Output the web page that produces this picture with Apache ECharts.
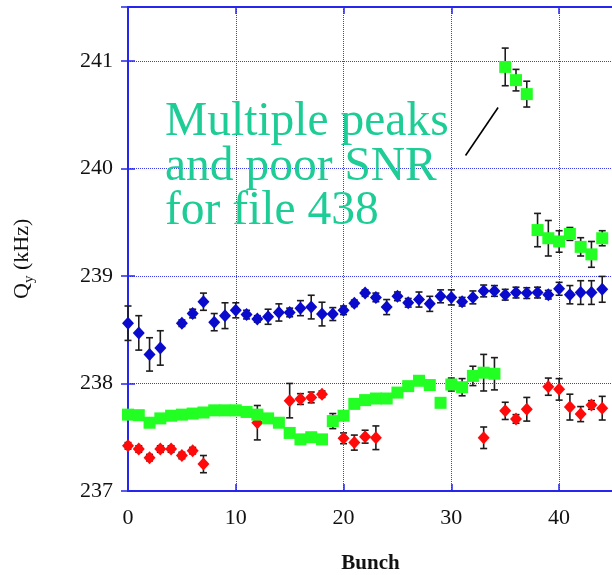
<!DOCTYPE html>
<html>
<head>
<meta charset="utf-8">
<script src="https://cdn.jsdelivr.net/npm/echarts@6/dist/echarts.min.js"></script>
<style>
  html, body { margin: 0; padding: 0; background: #ffffff; }
  #chart { width: 612px; height: 575px; }
</style>
</head>
<body>
<div id="chart"></div>
<script>
// Vertical tune Q_y per bunch, three measurement files, with error bars (kHz)
const blueBunch = [0,1,2,3,5,6,7,8,9,10,11,12,13,14,15,16,17,18,19,20,21,22,23,24,25,26,27,28,29,30,31,32,33,34,35,36,37,38,39,40,41,42,43,44];
const blueQy = [238.56,238.47,238.27,238.33,238.56,238.65,238.76,238.57,238.63,238.68,238.64,238.60,238.62,238.66,238.66,238.70,238.71,238.645,238.645,238.68,238.745,238.84,238.80,238.71,238.81,238.75,238.78,238.74,238.81,238.80,238.76,238.80,238.86,238.86,238.825,238.845,238.84,238.845,238.825,238.88,238.825,238.845,238.845,238.875];
const blueErr = [0.16,0.16,0.155,0.16,0.03,0.04,0.08,0.08,0.12,0.07,0.04,0.03,0.07,0.08,0.04,0.07,0.11,0.11,0.06,0.04,0.03,0.03,0.04,0.07,0.04,0.04,0.07,0.07,0.06,0.07,0.04,0.06,0.055,0.05,0.05,0.05,0.05,0.05,0.04,0.06,0.085,0.11,0.11,0.12];

const redBunch = [0,1,2,3,4,5,6,7,12,15,16,17,18,20,21,22,23,33,35,36,37,39,40,41,42,43,44];
const redQy = [237.42,237.39,237.31,237.39,237.39,237.33,237.375,237.25,237.635,237.84,237.855,237.87,237.90,237.49,237.45,237.505,237.495,237.495,237.745,237.67,237.76,237.97,237.945,237.78,237.715,237.80,237.77];
const redErr = [0.03,0.03,0.03,0.03,0.03,0.03,0.03,0.08,0.16,0.16,0.05,0.05,0.03,0.05,0.07,0.06,0.11,0.1,0.08,0.04,0.11,0.08,0.1,0.12,0.07,0.04,0.11];

const greenBunch = [0,1,2,3,4,5,6,7,8,9,10,11,12,13,14,15,16,17,18,19,20,21,22,23,24,25,26,27,28,29,30,31,32,33,34,35,36,37,38,39,40,41,42,43,44];
const greenQy = [237.71,237.705,237.635,237.675,237.70,237.71,237.72,237.73,237.75,237.75,237.75,237.735,237.71,237.675,237.635,237.54,237.48,237.50,237.48,237.65,237.70,237.81,237.845,237.86,237.86,237.915,237.975,238.025,237.985,237.82,237.99,237.965,238.07,238.10,238.09,240.943,240.82,240.69,239.426,239.35,239.32,239.39,239.27,239.20,239.35];
const greenErr = [0.03,0.03,0.03,0.03,0.03,0.03,0.03,0.03,0.03,0.03,0.03,0.03,0.03,0.03,0.03,0.03,0.03,0.03,0.03,0.07,0.03,0.03,0.03,0.03,0.03,0.03,0.03,0.03,0.03,0.03,0.06,0.08,0.09,0.17,0.15,0.175,0.1,0.12,0.155,0.165,0.1,0.06,0.085,0.12,0.07];

// Axis ranges and tick labels
const xTicks = [0, 10, 20, 30, 40];
const yTicks = [237, 238, 239, 240, 241];
const xRange = [0, 45];
const yRange = [237, 241.5];

// Note and its pointer (data coordinates)
const noteText = ['Multiple peaks', 'and poor SNR', 'for file 438'];
const notePointer = [[31.32, 240.12], [34.34, 240.566]];

const FONT = 'Liberation Serif';
const AXIS_BLUE = '#2626ee';
const GRID_BLUE = '#3a3af2';

function points(xs, ys, es) {
  return xs.map((x, i) => es ? [x, ys[i], es[i]] : [x, ys[i]]);
}

function errorBar(params, api) {
  const x = api.value(0), y = api.value(1), e = api.value(2);
  const hi = api.coord([x, y + e]);
  const lo = api.coord([x, y - e]);
  const hw = 3.5;
  const st = { stroke: '#1c1c1c', lineWidth: 1.6 };
  return {
    type: 'group',
    children: [
      { type: 'line', shape: { x1: hi[0], y1: hi[1], x2: lo[0], y2: lo[1] }, style: st },
      { type: 'line', shape: { x1: hi[0] - hw, y1: hi[1], x2: hi[0] + hw, y2: hi[1] }, style: st },
      { type: 'line', shape: { x1: lo[0] - hw, y1: lo[1], x2: lo[0] + hw, y2: lo[1] }, style: st }
    ]
  };
}

function errSeries(xs, ys, es, z) {
  return {
    type: 'custom', renderItem: errorBar, z: z, silent: true, clip: false,
    dimensions: ['x', 'y', 'e'], encode: { x: 0, y: 1 },
    data: points(xs, ys, es)
  };
}

function markSeries(xs, ys, symbol, size, color, z) {
  return {
    type: 'scatter', symbol: symbol, symbolSize: size, z: z, silent: true, clip: false,
    itemStyle: { color: color, opacity: 1 },
    data: points(xs, ys)
  };
}

const chart = echarts.init(document.getElementById('chart'), null, { renderer: 'canvas' });

const baseX = { type: 'value', min: xRange[0], max: xRange[1], interval: 10 };
const baseY = { type: 'value', min: yRange[0], max: yRange[1], interval: 1 };

chart.setOption({
  animation: false,
  backgroundColor: '#ffffff',
  grid: { left: 128, right: -1, top: 7, bottom: 84, containLabel: false, outerBoundsMode: 'none' },
  xAxis: [
    Object.assign({}, baseX, {
      position: 'bottom',
      name: 'Bunch', nameLocation: 'middle', nameGap: 62,
      nameTextStyle: { fontFamily: FONT, fontSize: 21, fontWeight: 'bold', color: '#111' },
      axisLine: { show: true, lineStyle: { color: AXIS_BLUE, width: 2 } },
      axisTick: { show: true, inside: true, length: 7, lineStyle: { color: AXIS_BLUE, width: 1.5 } },
      axisLabel: {
        margin: 16, fontFamily: FONT, fontSize: 22, color: '#111',
        formatter: v => xTicks.includes(v) ? String(v) : ''
      },
      splitLine: { show: true, lineStyle: { color: GRID_BLUE, type: 'dotted', width: 1 } }
    }),
    Object.assign({}, baseX, {
      position: 'top',
      axisLine: { show: true, lineStyle: { color: AXIS_BLUE, width: 2 } },
      axisTick: { show: true, inside: true, length: 7, lineStyle: { color: AXIS_BLUE, width: 1.5 } },
      axisLabel: { show: false },
      splitLine: { show: false }
    })
  ],
  yAxis: [
    Object.assign({}, baseY, {
      position: 'left',
      axisLine: { show: true, lineStyle: { color: AXIS_BLUE, width: 2 } },
      axisTick: { show: true, inside: true, length: 7, lineStyle: { color: AXIS_BLUE, width: 1.5 } },
      axisLabel: {
        margin: 15, fontFamily: FONT, fontSize: 22, color: '#111',
        formatter: v => yTicks.includes(v) ? String(v) : ''
      },
      splitLine: { show: true, lineStyle: { color: GRID_BLUE, type: 'dotted', width: 1 } }
    }),
    Object.assign({}, baseY, {
      position: 'right',
      axisLine: { show: true, lineStyle: { color: AXIS_BLUE, width: 2 } },
      axisTick: { show: true, inside: true, length: 7, lineStyle: { color: AXIS_BLUE, width: 1.5 } },
      axisLabel: { show: false },
      splitLine: { show: false }
    })
  ],
  series: [
    errSeries(redBunch, redQy, redErr, 3),
    markSeries(redBunch, redQy, 'diamond', [12, 13], '#ff0a0a', 4),
    errSeries(greenBunch, greenQy, greenErr, 5),
    markSeries(greenBunch, greenQy, 'rect', [12, 12], '#22ff22', 6),
    errSeries(blueBunch, blueQy, blueErr, 7),
    markSeries(blueBunch, blueQy, 'diamond', [12, 13], '#0a0acc', 8),
    {
      type: 'line', data: notePointer, symbol: 'none', silent: true, z: 9,
      lineStyle: { color: '#000000', width: 1.6 }
    }
  ],
  graphic: [
    {
      type: 'text', left: 165, top: 99, z: 1,
      style: {
        text: noteText.join('\n'),
        font: '47.5px "' + FONT + '"',
        lineHeight: 44.5,
        fill: '#1ecc96'
      }
    },
    {
      type: 'group', x: 22, y: 299, rotation: Math.PI / 2,
      children: [
        { type: 'text', x: 0, y: 0, style: { text: 'Q', font: '22px "' + FONT + '"', fill: '#111', verticalAlign: 'middle', align: 'left' } },
        { type: 'text', x: 16, y: 7, style: { text: 'y', font: '15px "' + FONT + '"', fill: '#111', verticalAlign: 'middle', align: 'left' } },
        { type: 'text', x: 29, y: 0, style: { text: '(kHz)', font: '22px "' + FONT + '"', fill: '#111', verticalAlign: 'middle', align: 'left' } }
      ]
    }
  ]
});
</script>
</body>
</html>
